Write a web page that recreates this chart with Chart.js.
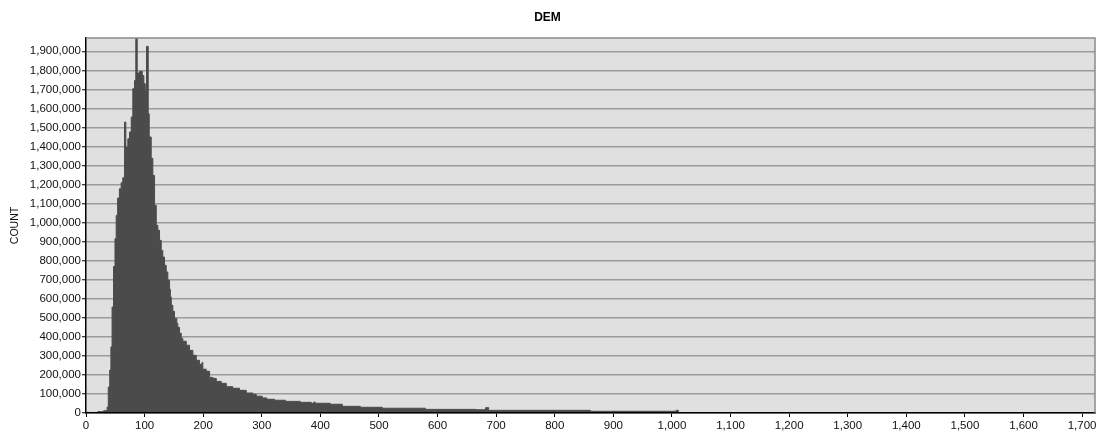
<!DOCTYPE html>
<html>
<head>
<meta charset="utf-8">
<title>DEM</title>
<script src="https://cdn.jsdelivr.net/npm/chart.js@4.4.1/dist/chart.umd.min.js"></script>
<style>
    html, body { margin: 0; padding: 0; background: #fff; }
    #wrap { width: 1103px; height: 434px; position: relative; }
</style>
</head>
<body>
<div id="wrap"><canvas id="dem_hist"></canvas></div>
<script>
// 直方圖資料: 每個區間的起點 (DEM 值) 與該區間的 COUNT
var binStart = [
    0, 20, 30, 36, 38, 40.5, 42.5, 44.5, 47, 49.5,
    51.5, 54, 57, 60, 62.8, 65.7, 68, 71.4, 74.3, 77.2,
    79.9, 82.8, 85, 87.4, 91.3, 96, 98.7, 101.1, 103.3, 106.2,
    107.9, 111.3, 114.1, 117, 119.9, 122.6, 125.5, 128.4, 131.1, 134,
    136.9, 139.7, 142.6, 144, 145.5, 148.2, 151.1, 155, 156.7, 159.6,
    162.5, 165.3, 171.1, 176.7, 182.4, 188.2, 193.8, 198, 199.4, 205.2,
    210.9, 216.5, 222.3, 230.8, 239.4, 250.6, 262.1, 273.5, 284.8, 290.6,
    300.8, 308.7, 321.8, 340.6, 365.7, 384.5, 389, 391, 416.9, 437.4,
    468.2, 505.7, 579.1, 666.2, 682, 687.2, 860.9, 1007, 1011
];
var binCount = [
    3000, 7000, 12000, 31000, 136000, 226000, 347000, 557000, 770000, 916000,
    1038000, 1129000, 1178000, 1210000, 1236000, 1528000, 1397000, 1441000, 1476000, 1555000,
    1704000, 1747000, 1970000, 1786000, 1795000, 1773000, 1730000, 1691000, 1926000, 1572000,
    1450000, 1338000, 1248000, 1091000, 986000, 960000, 907000, 854000, 819000, 776000,
    741000, 697000, 650000, 610000, 566000, 534000, 497000, 471000, 450000, 419000,
    392000, 377000, 356000, 329000, 303000, 277000, 256000, 266000, 230000, 219000,
    187000, 182000, 166000, 156000, 138000, 130000, 119000, 105000, 98000, 88000,
    79000, 72000, 67000, 61000, 56000, 51000, 58000, 51000, 46000, 35000,
    30000, 25000, 19000, 17000, 28000, 14000, 9000, 14000, 0
];

// 刻度
var xTicks = [0, 100, 200, 300, 400, 500, 600, 700, 800, 900,
    1000, 1100, 1200, 1300, 1400, 1500, 1600, 1700];
var yTicks = [0, 100000, 200000, 300000, 400000, 500000, 600000, 700000,
    800000, 900000, 1000000, 1100000, 1200000, 1300000, 1400000, 1500000,
    1600000, 1700000, 1800000, 1900000];

// 座標軸範圍
var xMax = 1722;
var yMax = 1970000;

var chartFont = "'Liberation Sans', Arial, Helvetica, sans-serif";

function fmt(value) {
    return Number(value).toLocaleString('en-US');
}

function setTicks(list) {
    return function(scale) {
        scale.ticks = list.map(function(v) { return { value: v }; });
    };
}

// 繪圖區背景和上、右框線
var plotFrame = {
    id: 'plotFrame',
    beforeDraw: function(chart) {
        var a = chart.chartArea;
        var ctx = chart.ctx;
        ctx.save();
        ctx.fillStyle = '#e0e0e0';
        ctx.fillRect(a.left, a.top, a.right - a.left, a.bottom - a.top);
        ctx.restore();
    },
    afterDraw: function(chart) {
        var a = chart.chartArea;
        var ctx = chart.ctx;
        ctx.save();
        ctx.strokeStyle = '#8a8a8a';
        ctx.lineWidth = 1.5;
        ctx.beginPath();
        ctx.moveTo(a.left, a.top);
        ctx.lineTo(a.right, a.top);
        ctx.lineTo(a.right, a.bottom);
        ctx.stroke();
        ctx.restore();
    }
};

function draw_hist() {
    var points = [];
    binStart.forEach(function(x, i) {
        points.push({ x: x, y: binCount[i] });
    });

    Chart.defaults.font.family = chartFont;
    Chart.defaults.color = '#111';

    var ctx = document.getElementById('dem_hist').getContext('2d');
    var histChart = new Chart(ctx, {
        type: 'line',
        data: {
            datasets: [{
                label: 'COUNT',
                data: points,
                stepped: true,
                fill: 'origin',
                backgroundColor: '#4b4b4b',
                borderColor: '#4b4b4b',
                borderWidth: 1,
                pointRadius: 0,
                tension: 0
            }]
        },
        options: {
            responsive: true,
            maintainAspectRatio: false,
            animation: false,
            layout: {
                padding: { left: 0, right: 8, top: 0, bottom: 0 }
            },
            plugins: {
                legend: { display: false },
                tooltip: { enabled: false },
                title: {
                    display: true,
                    text: 'DEM',
                    color: '#000',
                    font: { size: 12, weight: 'bold' },
                    padding: { top: 10, bottom: 13.6 }
                }
            },
            scales: {
                x: {
                    type: 'linear',
                    min: 0,
                    max: xMax,
                    afterBuildTicks: setTicks(xTicks),
                    afterFit: function(scale) { scale.height = 21; },
                    grid: {
                        drawOnChartArea: false,
                        drawTicks: true,
                        tickLength: 4,
                        tickColor: '#000',
                        tickWidth: 1
                    },
                    border: { color: '#000', width: 1.5, z: 1 },
                    ticks: {
                        autoSkip: false,
                        maxRotation: 0,
                        padding: 2,
                        color: '#111',
                        font: { size: 11.5 },
                        callback: fmt
                    }
                },
                y: {
                    type: 'linear',
                    min: 0,
                    max: yMax,
                    afterBuildTicks: setTicks(yTicks),
                    afterFit: function(scale) { scale.width = 86; },
                    grid: {
                        color: '#9b9b9b',
                        lineWidth: 1.5,
                        drawTicks: true,
                        tickLength: 4,
                        tickColor: '#000',
                        tickWidth: 1
                    },
                    border: { color: '#000', width: 1.5, z: 1 },
                    title: {
                        display: true,
                        text: 'COUNT',
                        color: '#111',
                        font: { size: 10.5 },
                        padding: { top: 9, bottom: 0 }
                    },
                    ticks: {
                        autoSkip: false,
                        padding: 1,
                        color: '#111',
                        font: { size: 11.5 },
                        callback: fmt
                    }
                }
            }
        },
        plugins: [plotFrame]
    });
}

document.addEventListener('DOMContentLoaded', function() {
    draw_hist();
});
</script>
</body>
</html>
